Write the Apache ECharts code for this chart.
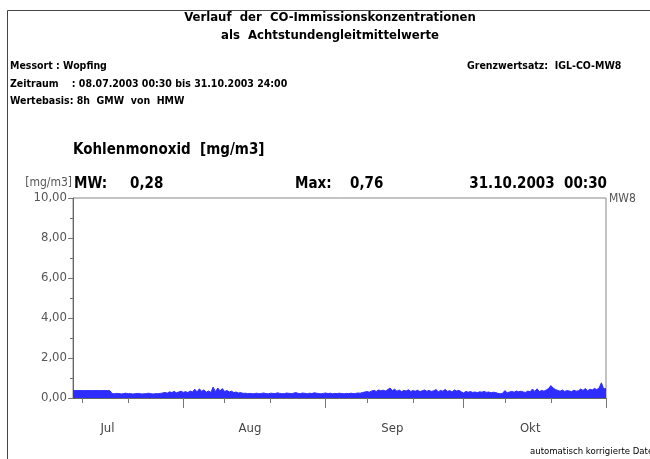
<!DOCTYPE html>
<html>
<head>
<meta charset="utf-8">
<title>Kohlenmonoxid MW8</title>
<script src="https://cdn.jsdelivr.net/npm/echarts@6/dist/echarts.min.js"></script>
<style>
    html, body { margin: 0; padding: 0; background: #fff; }
    #chart { width: 650px; height: 459px; }
</style>
</head>
<body>
<div id="chart"></div>
<script>
// 8h-Gleitmittelwerte, je ein Wert pro 12 Stunden ab 08.07.2003 00:00
var co_values = [
    0.37, 0.37, 0.37, 0.37, 0.37, 0.37, 0.37, 0.37, 0.37, 0.37, 0.37, 0.37, 0.37, 0.37, 0.37, 0.37, 0.37,
    0.22, 0.21, 0.23, 0.22, 0.20, 0.22, 0.24, 0.21, 0.22, 0.20, 0.21, 0.23, 0.22, 0.20, 0.21, 0.22, 0.24, 0.21, 0.20, 0.22, 0.21,
    0.23, 0.25, 0.28, 0.24, 0.31, 0.27, 0.33, 0.26, 0.30, 0.34, 0.28, 0.32, 0.27, 0.35, 0.30,
    0.44, 0.30, 0.46, 0.33, 0.41, 0.29, 0.35, 0.28, 0.55, 0.31, 0.50, 0.36, 0.47, 0.32,
    0.38, 0.30, 0.34, 0.27, 0.30, 0.25, 0.27, 0.23, 0.24, 0.22, 0.23, 0.21,
    0.22, 0.24, 0.21, 0.23, 0.25, 0.22, 0.21, 0.24, 0.23, 0.22, 0.26, 0.23, 0.21, 0.22, 0.25, 0.23, 0.22, 0.24, 0.27,
    0.23, 0.22, 0.25, 0.23, 0.21, 0.24, 0.22, 0.26, 0.24, 0.22, 0.21, 0.23, 0.25, 0.22, 0.24, 0.21, 0.23, 0.22, 0.24,
    0.22, 0.21, 0.23, 0.22, 0.24, 0.22, 0.23, 0.25, 0.24, 0.27,
    0.30, 0.32, 0.29, 0.35, 0.38, 0.33, 0.40, 0.36, 0.39, 0.35, 0.42,
    0.50, 0.37, 0.44, 0.34, 0.40, 0.32, 0.38, 0.35, 0.41, 0.33, 0.37, 0.34, 0.39, 0.32, 0.36, 0.40, 0.34, 0.38, 0.33,
    0.36, 0.42, 0.31, 0.38, 0.34, 0.43, 0.33, 0.37, 0.30, 0.40, 0.35, 0.38, 0.31, 0.25,
    0.33, 0.29, 0.32, 0.28, 0.30, 0.27, 0.31, 0.29, 0.33, 0.28, 0.30, 0.26, 0.29, 0.27,
    0.23, 0.21, 0.24, 0.37, 0.26, 0.30, 0.33, 0.29, 0.35, 0.31, 0.34,
    0.30, 0.28, 0.35, 0.31, 0.45, 0.33, 0.46, 0.32, 0.38, 0.34, 0.40,
    0.48, 0.62, 0.50, 0.42,
    0.38, 0.34, 0.40, 0.33, 0.37, 0.35, 0.32, 0.39, 0.34, 0.36,
    0.45, 0.38, 0.47, 0.36, 0.44, 0.40, 0.48, 0.42, 0.50, 0.76, 0.45, 0.48
];

var month_names = ['Jul', 'Aug', 'Sep', 'Okt'];
var y_ticks = [0, 2, 4, 6, 8, 10];

// x-Achse in Tagen ab 08.07.2003 00:00
var start_time = Date.UTC(2003, 6, 8);
var DAY = 24 * 3600 * 1000;

function dayOf(m, d, h) {
    return (Date.UTC(2003, m, d, h || 0) - start_time) / DAY;
}

var end_day = dayOf(10, 1);
var month_starts = [dayOf(7, 1), dayOf(8, 1), dayOf(9, 1), dayOf(10, 1)];
var decade_ticks = [dayOf(6, 10), dayOf(6, 20), dayOf(7, 10), dayOf(7, 20), dayOf(8, 10), dayOf(8, 20), dayOf(9, 10), dayOf(9, 20)];
var month_mids = [dayOf(6, 15, 12), dayOf(7, 15, 12), dayOf(8, 15, 12), dayOf(9, 15, 12)];

var head_font = '"Liberation Sans Narrow", "DejaVu Sans Condensed", sans-serif';
var axis_font = '"DejaVu Sans Condensed", "Liberation Sans Narrow", sans-serif';

function comma(v) {
    return v.toFixed(2).replace('.', ',');
}

function monthLabel(v) {
    for (var i = 0; i < month_mids.length; i++) {
        if (Math.abs(month_mids[i] - v) < 0.01) return month_names[i];
    }
    return '';
}

function headText(x, y, text, size, bold, align, color) {
    return {
        type: 'text',
        x: x,
        y: y,
        style: {
            text: text,
            fill: color || '#000',
            font: (bold ? 'bold ' : '') + size + 'px ' + head_font,
            textAlign: align || 'left',
            textVerticalAlign: 'middle'
        }
    };
}

var chartDom = document.getElementById('chart');
var myChart = echarts.init(chartDom, null, { renderer: 'canvas' });

var seriesData = [];
for (var i = 0; i < co_values.length; i++) {
    seriesData.push([i * 0.5, co_values[i]]);
}

var option = {
    animation: false,
    backgroundColor: '#fff',
    grid: {
        left: 73,
        right: 44,
        top: 198,
        bottom: 61,
        show: true,
        borderColor: '#888',
        borderWidth: 1
    },
    xAxis: [
        {
            type: 'value',
            min: 0,
            max: end_day,
            axisLine: { show: true, lineStyle: { color: '#666', width: 1 } },
            axisTick: {
                show: true,
                customValues: month_starts,
                length: 10,
                lineStyle: { color: '#777' }
            },
            axisLabel: {
                customValues: month_mids,
                formatter: monthLabel,
                margin: 24,
                color: '#444',
                fontSize: 13,
                fontFamily: axis_font
            },
            splitLine: { show: false }
        },
        {
            type: 'value',
            position: 'bottom',
            min: 0,
            max: end_day,
            axisLine: { show: false },
            axisTick: {
                show: true,
                customValues: decade_ticks,
                length: 5,
                lineStyle: { color: '#777' }
            },
            axisLabel: { show: false },
            splitLine: { show: false }
        }
    ],
    yAxis: {
        type: 'value',
        min: y_ticks[0],
        max: y_ticks[y_ticks.length - 1],
        interval: 2,
        axisLine: { show: true, lineStyle: { color: '#666' } },
        axisTick: { show: true, length: 5, lineStyle: { color: '#777' } },
        minorTick: { show: true, splitNumber: 2, length: 3, lineStyle: { color: '#777' } },
        axisLabel: {
            formatter: comma,
            margin: 6,
            color: '#555',
            fontSize: 13,
            fontFamily: axis_font
        },
        splitLine: { show: false }
    },
    series: [
        {
            name: 'MW8',
            type: 'line',
            data: seriesData,
            showSymbol: false,
            lineStyle: { color: '#2d2dff', width: 1 },
            areaStyle: { color: '#2d2dff', opacity: 1 },
            z: 1
        }
    ],
    graphic: [
        {
            type: 'rect',
            shape: { x: 7.5, y: 10.5, width: 700, height: 500 },
            style: { fill: 'none', stroke: '#444', lineWidth: 1 }
        },
        headText(330, 18, 'Verlauf  der  CO-Immissionskonzentrationen', 13, true, 'center'),
        headText(330, 36, 'als  Achtstundengleitmittelwerte', 13, true, 'center'),
        headText(10, 66, 'Messort : Wopfing', 10.5, true),
        headText(10, 84, 'Zeitraum    : 08.07.2003 00:30 bis 31.10.2003 24:00', 10.5, true),
        headText(10, 101, 'Wertebasis: 8h  GMW  von  HMW', 10.5, true),
        headText(467, 66, 'Grenzwertsatz:  IGL-CO-MW8', 10.5, true),
        headText(73, 150, 'Kohlenmonoxid  [mg/m3]', 15, true),
        headText(74, 184, 'MW:', 15, true),
        headText(130, 184, '0,28', 15, true),
        headText(295, 184, 'Max:', 15, true),
        headText(350, 184, '0,76', 15, true),
        headText(607, 184, '31.10.2003  00:30', 15, true, 'right'),
        {
            type: 'text', x: 72, y: 183,
            style: { text: '[mg/m3]', fill: '#555', font: '12px ' + axis_font, textAlign: 'right', textVerticalAlign: 'middle' }
        },
        {
            type: 'text', x: 609, y: 199,
            style: { text: 'MW8', fill: '#555', font: '12px ' + axis_font, textAlign: 'left', textVerticalAlign: 'middle' }
        },
        {
            type: 'text', x: 530, y: 452,
            style: { text: 'automatisch korrigierte Daten', fill: '#000', font: '9.5px ' + head_font, textAlign: 'left', textVerticalAlign: 'middle' }
        }
    ]
};

option && myChart.setOption(option);
</script>
</body>
</html>
